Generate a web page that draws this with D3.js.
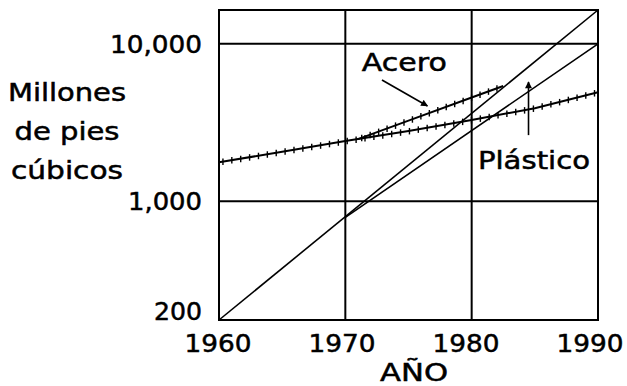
<!DOCTYPE html>
<html>
<head>
<meta charset="utf-8">
<script src="https://cdn.jsdelivr.net/npm/d3@7"></script>
<style>
  html, body { margin: 0; padding: 0; background: #fff; }
  svg { display: block; }
  text { font-family: "DejaVu Sans", sans-serif; font-size: 24px; fill: #000; stroke: #000; stroke-width: 0.5px; }
</style>
</head>
<body>
<svg id="chart" width="627" height="386"></svg>
<script>
// ---- data ----
const xTickYears = [1960, 1970, 1980, 1990];
const xTickLabels = ["1960", "1970", "1980", "1990"];
const yTickValues = [200, 1000, 10000];
const yTickLabels = ["200", "1,000", "10,000"];
const yGridValues = [1000, 10000];
const xGridYears = [1970, 1980];

// Plástico: two straight projections (log scale)
const plasticHighYears = [1960, 1990];
const plasticHighValues = [176, 16400];
const plasticLowYears = [1970, 1990];
const plasticLowValues = [790, 10000];

// Acero: common history then two branches
const steelLowYears = [1960, 1965, 1970, 1975, 1980, 1985, 1990];
const steelLowValues = [1770, 2060, 2410, 2790, 3280, 3900, 4930];
const steelHighYears = [1971, 1975, 1980, 1982.5];
const steelHighValues = [2480, 3250, 4560, 5400];

const yAxisTitle = ["Millones", "de pies", "cúbicos"];
const xAxisTitle = "AÑO";
const steelLabel = "Acero";
const plasticLabel = "Plástico";

// ---- layout ----
const svg = d3.select("#chart");
const x = d3.scaleLinear().domain([1960, 1990]).range([219, 598]);
const xLab = d3.scaleLinear().domain([1960, 1990]).range([218, 590]);
const y = d3.scaleLog().domain([176, 16400]).range([320, 10]);

// grid
svg.append("g").selectAll("line").data(yGridValues).join("line")
  .attr("x1", x(1960)).attr("x2", x(1990))
  .attr("y1", d => y(d)).attr("y2", d => y(d))
  .attr("stroke", "#000").attr("stroke-width", 2);
svg.append("g").selectAll("line").data(xGridYears).join("line")
  .attr("x1", d => x(d)).attr("x2", d => x(d))
  .attr("y1", y.range()[0]).attr("y2", y.range()[1])
  .attr("stroke", "#000").attr("stroke-width", 2);
// box
svg.append("rect")
  .attr("x", x(1960)).attr("y", y.range()[1])
  .attr("width", x(1990) - x(1960)).attr("height", y.range()[0] - y.range()[1])
  .attr("fill", "none").attr("stroke", "#000").attr("stroke-width", 2);

// y tick labels
const yW = {"200": 48, "1,000": 74, "10,000": 92};
svg.append("g").selectAll("text").data(yTickValues).join("text")
  .attr("x", 202).attr("y", d => y(d) + 9)
  .attr("text-anchor", "end")
  .attr("textLength", (d, i) => yW[yTickLabels[i]])
  .attr("lengthAdjust", "spacingAndGlyphs")
  .text((d, i) => yTickLabels[i]);

// x tick labels
svg.append("g").selectAll("text").data(xTickYears).join("text")
  .attr("x", d => xLab(d)).attr("y", 352)
  .attr("text-anchor", "middle")
  .attr("textLength", 67)
  .attr("lengthAdjust", "spacingAndGlyphs")
  .text((d, i) => xTickLabels[i]);

// axis titles
const titleW = [118, 105, 112];
const titleY = [101, 140, 179];
svg.append("g").selectAll("text").data(yAxisTitle).join("text")
  .attr("x", 67).attr("y", (d, i) => titleY[i])
  .attr("text-anchor", "middle")
  .attr("textLength", (d, i) => titleW[i])
  .attr("lengthAdjust", "spacingAndGlyphs")
  .text(d => d);
svg.append("text").attr("x", 414).attr("y", 381)
  .attr("text-anchor", "middle")
  .attr("textLength", 68).attr("lengthAdjust", "spacingAndGlyphs")
  .text(xAxisTitle);

// lines
const line = d3.line().x(d => x(d[0])).y(d => y(d[1]));
function series(years, vals) { return years.map((t, i) => [t, vals[i]]); }

svg.append("path").datum(series(plasticHighYears, plasticHighValues))
  .attr("d", line).attr("fill", "none").attr("stroke", "#000").attr("stroke-width", 1.6);
svg.append("path").datum(series(plasticLowYears, plasticLowValues))
  .attr("d", line).attr("fill", "none").attr("stroke", "#000").attr("stroke-width", 1.6);

function tickedLine(years, vals) {
  const p = svg.append("path").datum(series(years, vals))
    .attr("d", line).attr("fill", "none").attr("stroke", "#000").attr("stroke-width", 2);
  const node = p.node();
  const L = node.getTotalLength();
  const pts = d3.range(4, L, 9).map(l => node.getPointAtLength(l));
  svg.append("g").selectAll("line").data(pts).join("line")
    .attr("x1", d => d.x).attr("x2", d => d.x)
    .attr("y1", d => d.y - 3).attr("y2", d => d.y + 3.5)
    .attr("stroke", "#000").attr("stroke-width", 1.4);
}
tickedLine(steelLowYears, steelLowValues);
tickedLine(steelHighYears, steelHighValues);

// annotations
const defs = svg.append("defs");
defs.append("marker").attr("id", "ah").attr("viewBox", "0 0 10 10")
  .attr("refX", 9).attr("refY", 5).attr("markerWidth", 9).attr("markerHeight", 7)
  .attr("markerUnits", "userSpaceOnUse").attr("orient", "auto")
  .append("path").attr("d", "M0,0 L10,5 L0,10 Z").attr("fill", "#000");

const steelArrow = [[1972.9, 5890], [1976.5, 4030]];
const plasticArrow = [[1984.5, 2630], [1984.5, 5720]];
[steelArrow, plasticArrow].forEach(a => {
  svg.append("line")
    .attr("x1", x(a[0][0])).attr("y1", y(a[0][1]))
    .attr("x2", x(a[1][0])).attr("y2", y(a[1][1]))
    .attr("stroke", "#000").attr("stroke-width", 1.6)
    .attr("marker-end", "url(#ah)");
});

svg.append("text").attr("x", x(1971.3)).attr("y", y(6710))
  .attr("textLength", 85).attr("lengthAdjust", "spacingAndGlyphs")
  .text(steelLabel);
svg.append("text").attr("x", x(1980.5)).attr("y", y(1602))
  .attr("textLength", 112).attr("lengthAdjust", "spacingAndGlyphs")
  .text(plasticLabel);
</script>
</body>
</html>
